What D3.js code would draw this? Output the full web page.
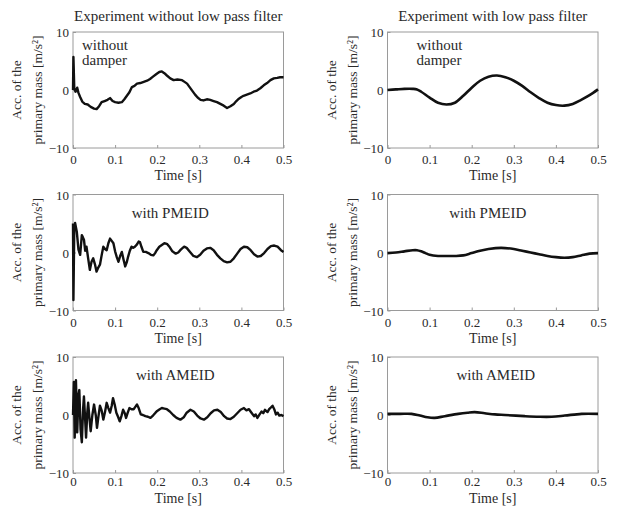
<!DOCTYPE html>
<html>
<head>
<meta charset="utf-8">
<script src="https://cdn.jsdelivr.net/npm/d3@7"></script>
<style>
  body { margin: 0; background: #fff; }
  text { font-family: "Liberation Serif", "DejaVu Serif", serif; fill: #2a2a2a; }
</style>
</head>
<body>
<svg width="617" height="506"></svg>
<script>
// column titles and panel notes
var columnTitles = ['Experiment without low pass filter', 'Experiment with low pass filter'];
var panelNotes = [['without', 'damper'], ['with PMEID'], ['with AMEID']];
var xTicks = [0, 0.1, 0.2, 0.3, 0.4, 0.5];
var yTicks = [-10, 0, 10];

// [time s, acceleration m/s^2]
var rawNoDamper = [[0,0],[0.001,5.7],[0.003,0.3],[0.006,-0.3],[0.01,0.4],[0.013,-0.5],[0.017,-1.2],[0.022,-2.0],[0.028,-2.4],[0.035,-2.5],[0.042,-2.9],[0.05,-3.2],[0.056,-3.3],[0.062,-2.8],[0.068,-2.1],[0.075,-1.9],[0.082,-1.7],[0.088,-1.4],[0.094,-1.9],[0.1,-2.1],[0.108,-2.2],[0.116,-2.1],[0.122,-1.6],[0.128,-1.0],[0.134,-0.4],[0.14,0.5],[0.146,0.7],[0.152,1.1],[0.16,1.2],[0.168,1.4],[0.176,1.6],[0.183,1.9],[0.19,2.3],[0.199,2.8],[0.205,3.1],[0.211,3.2],[0.217,2.9],[0.223,2.5],[0.231,2.0],[0.239,1.7],[0.248,1.8],[0.259,1.7],[0.265,1.4],[0.271,1.1],[0.277,0.5],[0.283,-0.1],[0.29,-0.8],[0.296,-1.3],[0.303,-1.7],[0.31,-1.8],[0.318,-1.6],[0.326,-1.7],[0.334,-1.9],[0.342,-2.1],[0.35,-2.4],[0.358,-2.7],[0.366,-3.1],[0.374,-2.8],[0.382,-2.4],[0.388,-1.9],[0.394,-1.5],[0.4,-1.2],[0.405,-1.0],[0.413,-0.8],[0.421,-0.6],[0.429,-0.3],[0.437,-0.1],[0.445,0.3],[0.453,0.8],[0.461,1.2],[0.469,1.7],[0.477,2.0],[0.485,2.1],[0.492,2.2],[0.5,2.2]];

var rawPMEID = [[0,5],[0.001,-8.2],[0.003,4.0],[0.005,5.1],[0.009,3.6],[0.013,0.5],[0.017,-0.4],[0.021,3.0],[0.026,2.2],[0.029,0.3],[0.032,1.0],[0.036,-1.0],[0.04,-3.0],[0.044,-1.6],[0.048,-1.0],[0.052,-2.0],[0.056,-3.3],[0.06,-2.6],[0.064,-2.1],[0.068,-0.5],[0.072,1.0],[0.076,0.6],[0.08,0.4],[0.084,1.6],[0.088,2.4],[0.092,2.0],[0.096,1.6],[0.1,0.2],[0.104,-0.8],[0.108,-1.6],[0.112,-0.6],[0.116,0.1],[0.12,-1.2],[0.124,-2.4],[0.128,-1.6],[0.131,-0.7],[0.135,0.3],[0.139,1.0],[0.143,0.8],[0.147,1.0],[0.152,1.4],[0.156,1.9],[0.159,1.8],[0.163,0.9],[0.167,0.1],[0.173,0.1],[0.179,-0.1],[0.185,-0.4],[0.191,-0.5],[0.195,-0.1],[0.199,0.4],[0.205,1.0],[0.211,1.3],[0.217,1.6],[0.223,1.5],[0.23,0.9],[0.236,0.2],[0.244,-0.2],[0.25,0.0],[0.256,0.5],[0.264,1.0],[0.27,0.8],[0.278,0.1],[0.286,-0.6],[0.294,-0.8],[0.302,-0.4],[0.31,0.3],[0.318,0.7],[0.326,0.8],[0.334,0.4],[0.342,-0.4],[0.35,-1.0],[0.358,-1.5],[0.366,-1.7],[0.374,-1.6],[0.382,-1.0],[0.39,-0.2],[0.398,0.6],[0.406,1.0],[0.414,0.9],[0.422,0.4],[0.43,-0.3],[0.438,-0.7],[0.446,-0.6],[0.454,-0.1],[0.462,0.6],[0.47,1.1],[0.478,1.2],[0.486,1.0],[0.494,0.4],[0.5,0.1]];

var rawAMEID = [[0,0],[0.002,5.7],[0.004,-3.9],[0.007,6.0],[0.01,-3.0],[0.013,3.5],[0.015,4.3],[0.018,-2.5],[0.021,-4.7],[0.024,1.0],[0.026,3.2],[0.029,-1.0],[0.031,-3.9],[0.034,0.5],[0.036,2.1],[0.039,-0.5],[0.042,-2.8],[0.046,0.0],[0.05,1.8],[0.054,0.0],[0.057,-2.2],[0.06,-0.5],[0.064,1.6],[0.068,0.8],[0.072,-0.8],[0.076,0.5],[0.08,2.1],[0.084,1.2],[0.088,0.4],[0.092,1.6],[0.095,2.9],[0.099,1.8],[0.103,0.4],[0.107,-0.3],[0.111,-1.1],[0.115,-0.2],[0.119,0.9],[0.123,0.3],[0.126,-0.5],[0.13,0.4],[0.134,1.2],[0.139,1.0],[0.144,1.0],[0.148,1.4],[0.152,1.8],[0.156,1.2],[0.161,0.1],[0.166,0.0],[0.172,-0.2],[0.178,-0.3],[0.184,-0.5],[0.19,-0.1],[0.196,0.4],[0.2,0.7],[0.206,1.0],[0.211,1.2],[0.217,1.1],[0.223,1.0],[0.23,0.6],[0.238,0.0],[0.246,-0.5],[0.255,-0.8],[0.263,-0.4],[0.27,0.4],[0.279,0.9],[0.287,0.6],[0.295,-0.1],[0.303,-0.6],[0.311,-0.8],[0.319,-0.4],[0.327,0.3],[0.335,0.8],[0.343,0.9],[0.351,0.5],[0.359,-0.2],[0.366,-0.6],[0.374,-0.7],[0.382,-0.3],[0.39,0.3],[0.398,0.9],[0.406,1.2],[0.412,0.8],[0.418,1.0],[0.424,0.4],[0.43,-0.2],[0.434,0.1],[0.438,-0.5],[0.444,0.2],[0.448,0.6],[0.452,0.3],[0.456,0.9],[0.462,0.5],[0.466,1.0],[0.47,1.3],[0.474,1.6],[0.478,1.0],[0.482,0.1],[0.486,0.4],[0.49,-0.1],[0.495,0.0],[0.5,-0.2]];

var filtNoDamper = [[0,0.0],[0.02,0.1],[0.04,0.2],[0.06,0.2],[0.07,0.1],[0.08,-0.3],[0.1,-1.3],[0.12,-2.2],[0.14,-2.5],[0.16,-2.2],[0.18,-1.0],[0.2,0.4],[0.22,1.6],[0.24,2.3],[0.26,2.5],[0.28,2.2],[0.3,1.6],[0.32,0.7],[0.34,-0.4],[0.36,-1.4],[0.38,-2.2],[0.4,-2.6],[0.42,-2.7],[0.44,-2.4],[0.46,-1.7],[0.48,-0.9],[0.5,0.1]];

var filtPMEID = [[0,-0.1],[0.02,0.0],[0.04,0.2],[0.06,0.4],[0.07,0.4],[0.08,0.2],[0.09,-0.1],[0.1,-0.4],[0.12,-0.6],[0.14,-0.6],[0.16,-0.6],[0.18,-0.5],[0.2,-0.1],[0.22,0.3],[0.24,0.6],[0.27,0.8],[0.3,0.6],[0.32,0.3],[0.34,0.0],[0.36,-0.3],[0.38,-0.6],[0.4,-0.8],[0.42,-0.9],[0.44,-0.8],[0.46,-0.5],[0.48,-0.2],[0.5,-0.1]];

var filtAMEID = [[0,0.2],[0.03,0.2],[0.057,0.2],[0.077,-0.1],[0.095,-0.4],[0.112,-0.5],[0.136,-0.2],[0.168,0.2],[0.19,0.4],[0.207,0.5],[0.231,0.3],[0.255,0.1],[0.279,0.0],[0.326,-0.2],[0.36,-0.3],[0.39,-0.3],[0.421,-0.1],[0.461,0.2],[0.5,0.2]];

var series = [[rawNoDamper, filtNoDamper], [rawPMEID, filtPMEID], [rawAMEID, filtAMEID]];

var svg = d3.select('svg');

var colLeft = [73, 387.5];
var rowTop = [32, 194.5, 357];
var w = 210.5, h = 116;
var noteShift = [[0, 0], [-8, -5], [-3, 3]];

var x = d3.scaleLinear().domain([0, 0.5]).range([0, w]);
var y = d3.scaleLinear().domain([-10, 10]).range([h, 0]);

columnTitles.forEach(function (t, c) {
   svg.append('text')
      .attr('x', colLeft[c] + w / 2)
      .attr('y', 21)
      .attr('text-anchor', 'middle')
      .style('font-size', '15px')
      .text(t);
});

rowTop.forEach(function (top, r) {
   colLeft.forEach(function (left, c) {
      var g = svg.append('g').attr('transform', 'translate(' + left + ',' + top + ')');
      var last = r === 2;

      g.append('rect')
         .attr('width', w).attr('height', h)
         .attr('fill', 'none')
         .attr('stroke', '#9a9a9a');

      var xa = g.append('g')
         .attr('transform', 'translate(0,' + h + ')')
         .call(d3.axisBottom(x).tickValues(xTicks).tickSize(-3).tickPadding(last ? 4 : 7)
            .tickFormat(function (d) { return d === 0 ? '0' : d3.format('.1f')(d); }));
      var ya = g.append('g')
         .call(d3.axisLeft(y).tickValues(yTicks).tickSize(-3).tickPadding(4));
      [xa, ya].forEach(function (a) {
         a.select('.domain').remove();
         a.selectAll('line').attr('stroke', '#9a9a9a');
         a.selectAll('text').style('font-size', '13px').style('font-family', '"Liberation Serif", serif').attr('fill', '#2a2a2a');
      });
      ya.selectAll('text').attr('dy', '0.35em');

      g.append('text')
         .attr('x', w / 2).attr('y', h + (last ? 30 : 32))
         .attr('text-anchor', 'middle')
         .style('font-size', '14px')
         .text('Time [s]');

      var yl = g.append('text')
         .attr('transform', 'translate(-52,' + h / 2 + ') rotate(-90)')
         .attr('text-anchor', 'middle')
         .style('font-size', '13.5px');
      yl.append('tspan').attr('x', 0).attr('dy', 0).text('Acc. of the');
      yl.append('tspan').attr('x', 0).attr('dy', 21).text('primary mass [m/s\u00b2]');

      var note = panelNotes[r];
      if (note.length === 2) {
         note.forEach(function (s, i) {
            g.append('text')
               .attr('x', c === 0 ? 9 : 29)
               .attr('y', 17.5 + i * 15)
               .style('font-size', '15px')
               .text(s);
         });
      } else {
         g.append('text')
            .attr('x', w / 2 + noteShift[r][c])
            .attr('y', 23)
            .attr('text-anchor', 'middle')
            .style('font-size', '15px')
            .text(note[0]);
      }

      var line = d3.line()
         .x(function (d) { return x(d[0]); })
         .y(function (d) { return y(d[1]); })
         .curve(c === 0 ? d3.curveLinear : d3.curveCatmullRom);

      g.append('path')
         .datum(series[r][c])
         .attr('fill', 'none')
         .attr('stroke', '#111')
         .attr('stroke-width', c === 0 ? 2.4 : 2.6)
         .attr('stroke-linejoin', 'round')
         .attr('d', line);
   });
});
</script>
</body>
</html>
